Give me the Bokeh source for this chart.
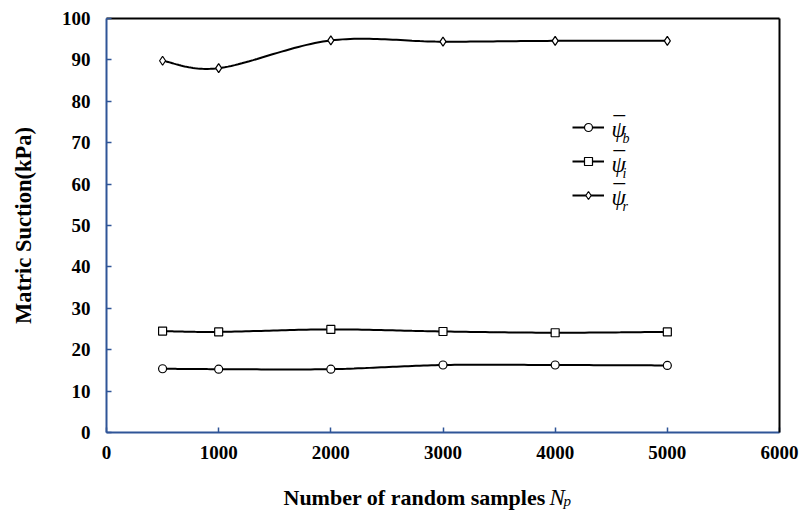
import numpy as np
from bokeh.plotting import figure
from bokeh.layouts import column
from bokeh.models import (LinearAxis, FixedTicker, Range1d, Label, Legend, LegendItem)
from bokeh.core.properties import value
from bokeh.embed import file_html
from bokeh.resources import INLINE

# ---- data ----
samples = [500, 1000, 2000, 3000, 4000, 5000]
psi_b = [15.4, 15.3, 15.3, 16.3, 16.3, 16.2]
psi_i = [24.5, 24.3, 24.9, 24.4, 24.1, 24.3]
psi_r = [89.8, 88.0, 94.7, 94.4, 94.6, 94.6]
x_ticks = [0, 1000, 2000, 3000, 4000, 5000, 6000]
y_ticks = [0, 10, 20, 30, 40, 50, 60, 70, 80, 90, 100]
legend_subs = ["b", "i", "r"]
y_title = "Matric Suction(kPa)"
x_title = "Number of random samples"

SERIF = "Liberation Serif"
BLUE = "#2f5597"


def smooth(xs, ys, n=30):
    """Excel-like smoothed line path (Catmull-Rom / Bezier) through the data points."""
    xs = np.asarray(xs, float)
    ys = np.asarray(ys, float)
    px = np.concatenate([[xs[0]], xs, [xs[-1]]])
    py = np.concatenate([[ys[0]], ys, [ys[-1]]])
    ox, oy = [], []
    t = np.linspace(0, 1, n)
    for k in range(1, len(px) - 2):
        p0x, p1x, p2x, p3x = px[k - 1], px[k], px[k + 1], px[k + 2]
        p0y, p1y, p2y, p3y = py[k - 1], py[k], py[k + 1], py[k + 2]
        c1x, c1y = p1x + (p2x - p0x) / 6, p1y + (p2y - p0y) / 6
        c2x, c2y = p2x - (p3x - p1x) / 6, p2y - (p3y - p1y) / 6
        bx = (1 - t) ** 3 * p1x + 3 * (1 - t) ** 2 * t * c1x + 3 * (1 - t) * t ** 2 * c2x + t ** 3 * p2x
        by = (1 - t) ** 3 * p1y + 3 * (1 - t) ** 2 * t * c1y + 3 * (1 - t) * t ** 2 * c2y + t ** 3 * p2y
        ox.extend(bx.tolist())
        oy.extend(by.tolist())
    return ox, oy


W = 800
BL, BR = 106, 21
p = figure(width=W, height=472, output_backend="svg", toolbar_location=None,
           x_range=Range1d(0, 6000), y_range=Range1d(0, 100),
           min_border_left=BL, min_border_right=BR, min_border_top=18, min_border_bottom=40,
           x_axis_location=None, y_axis_location=None)
p.outline_line_color = None
p.xgrid.grid_line_color = None
p.ygrid.grid_line_color = None
p.background_fill_color = "white"
p.border_fill_color = "white"

# axes
xa = LinearAxis(ticker=FixedTicker(ticks=x_ticks))
ya = LinearAxis(ticker=FixedTicker(ticks=y_ticks))
for ax in (xa, ya):
    ax.axis_line_color = BLUE
    ax.axis_line_width = 2
    ax.major_tick_line_color = BLUE
    ax.major_tick_line_width = 1.5
    ax.major_tick_in = 5
    ax.major_tick_out = 0
    ax.minor_tick_line_color = None
    ax.major_label_text_font = SERIF
    ax.major_label_text_font_style = "bold"
    ax.major_label_text_font_size = "19px"
    ax.major_label_text_color = "black"
ya.major_label_standoff = 16
xa.major_label_standoff = 13
ya.axis_label = y_title
ya.axis_label_text_font = SERIF
ya.axis_label_text_font_style = "bold"
ya.axis_label_text_font_size = "22.5px"
ya.axis_label_text_color = "black"
ya.axis_label_standoff = 23
p.add_layout(xa, "below")
p.add_layout(ya, "left")

# black top/right border
for loc in ("above", "right"):
    b = LinearAxis(ticker=FixedTicker(ticks=[]))
    b.axis_line_color = "black"
    b.axis_line_width = 2
    b.major_tick_line_color = None
    b.minor_tick_line_color = None
    b.major_label_text_font_size = "0px"
    p.add_layout(b, loc)

# series
items = []
for ys, marker, size in ((psi_b, "circle", 8), (psi_i, "square", 8), (psi_r, "diamond", 9)):
    sx, sy = smooth(samples, ys)
    lr = p.line(sx, sy, line_color="black", line_width=2)
    sr = p.scatter(samples, ys, marker=marker, size=size, fill_color="white",
                   line_color="black", line_width=1.2)
    items.append(LegendItem(label=" ", renderers=[lr, sr]))

leg = Legend(items=items, location=(466, 227), orientation="vertical",
             glyph_width=32, glyph_height=20, label_height=20, spacing=14,
             padding=0, margin=0, border_line_color=None, background_fill_alpha=0,
             label_text_font_size="4px", label_standoff=0)
p.add_layout(leg, "center")

# legend texts (psi with overbar and italic subscript)
row_px = [127, 162, 195]
for s, r in zip(legend_subs, row_px):
    base = 432 - (r + 2)
    p.add_layout(Label(x=505, y=base, x_units="screen", y_units="screen", text="\u03c8",
                       text_font=SERIF, text_font_style="italic", text_font_size="23px",
                       text_color="black", text_baseline="alphabetic"))
    p.add_layout(Label(x=507, y=base + 4, x_units="screen", y_units="screen", text="\u00af",
                       text_font=SERIF, text_font_style="normal", text_font_size="23px",
                       text_color="black", text_baseline="alphabetic"))
    p.add_layout(Label(x=516, y=432 - (r + 11), x_units="screen", y_units="screen", text=s,
                       text_font=SERIF, text_font_style="italic", text_font_size="14px",
                       text_color="black", text_baseline="alphabetic"))

# x-axis title strip (data units = page pixels measured from the frame's left edge)
H2 = 42
q = figure(width=W, height=H2, output_backend="svg", toolbar_location=None,
           x_range=Range1d(0, W - BL - BR), y_range=Range1d(0, H2),
           min_border_left=BL, min_border_right=BR, min_border_top=0, min_border_bottom=0,
           x_axis_location=None, y_axis_location=None)
q.outline_line_color = None
q.xgrid.grid_line_color = None
q.ygrid.grid_line_color = None
q.text(x=[177], y=[H2 - 25], text=[x_title], text_font=value(SERIF), text_font_style="bold",
       text_font_size="22px", text_color="black", text_baseline="alphabetic")
q.text(x=[443], y=[H2 - 25], text=["N"], text_font=value(SERIF), text_font_style="italic",
       text_font_size="23px", text_color="black", text_baseline="alphabetic")
q.text(x=[457], y=[H2 - 28], text=["p"], text_font=value(SERIF), text_font_style="italic",
       text_font_size="15px", text_color="black", text_baseline="alphabetic")

layout = column(p, q, spacing=0)
open("out.html", "w").write(file_html(layout, INLINE))
